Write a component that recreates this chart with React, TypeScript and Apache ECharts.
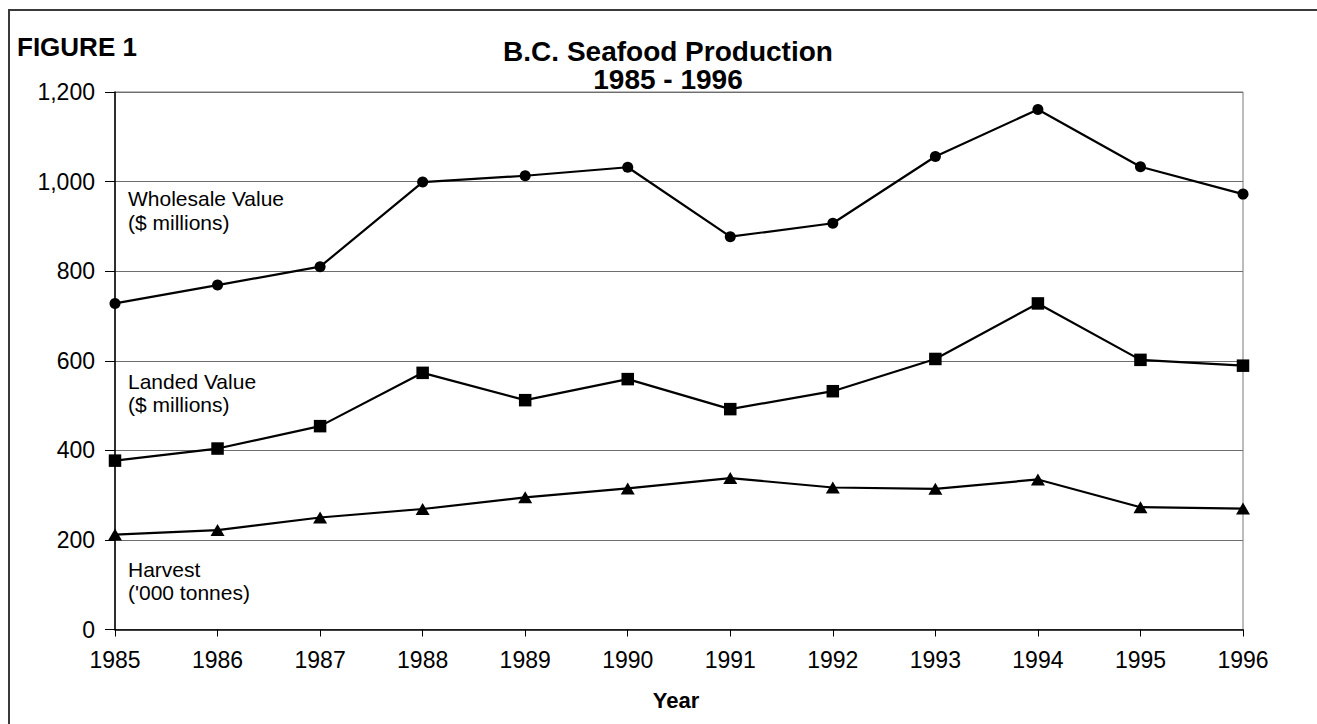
import React, { useEffect, useRef } from "react";
import * as echarts from "echarts";

const years = ["1985", "1986", "1987", "1988", "1989", "1990", "1991", "1992", "1993", "1994", "1995", "1996"];
const wholesaleValue = [728, 769, 810, 999, 1013, 1032, 877, 907, 1056, 1161, 1033, 972];
const landedValue = [377, 404, 454, 573, 512, 559, 492, 532, 604, 728, 602, 589];
const harvest = [212, 222, 250, 269, 295, 315, 338, 317, 314, 335, 273, 270];

const FONT = '"Liberation Sans", Arial, Helvetica, sans-serif';

export default function App() {
  const ref = useRef<HTMLDivElement>(null);
  useEffect(() => {
    document.body.style.margin = "0";
    const chart = echarts.init(ref.current!, null, { renderer: "svg" });
    const lineStyle = { color: "#000", width: 2.2 };
    chart.setOption({
      animation: false,
      backgroundColor: "#fff",
      textStyle: { fontFamily: FONT },
      grid: {
        left: 115,
        right: 74,
        top: 92,
        bottom: 94.5,
        show: true,
        borderColor: "#7a7a7a",
        borderWidth: 1,
      },
      xAxis: {
        type: "category",
        data: years,
        boundaryGap: false,
        axisLine: { lineStyle: { color: "#000", width: 1.5 } },
        axisTick: { show: true, length: 7, lineStyle: { color: "#000" }, alignWithLabel: true },
        axisLabel: { color: "#000", fontSize: 23, fontFamily: FONT, margin: 19 },
        splitLine: { show: false },
      },
      yAxis: {
        type: "value",
        min: 0,
        max: 1200,
        interval: 200,
        axisLine: { show: true, lineStyle: { color: "#000", width: 1.5 } },
        axisTick: { show: true, length: 10, lineStyle: { color: "#000" } },
        axisLabel: {
          color: "#000",
          fontSize: 23,
          fontFamily: FONT,
          margin: 20,
          formatter: (v: number) => v.toLocaleString("en-US"),
        },
        splitLine: { show: true, lineStyle: { color: "#6e6e6e", width: 1.2 } },
      },
      series: [
        {
          name: "Wholesale Value",
          type: "line",
          data: wholesaleValue,
          symbol: "circle",
          symbolSize: 11,
          itemStyle: { color: "#000" },
          lineStyle,
        },
        {
          name: "Landed Value",
          type: "line",
          data: landedValue,
          symbol: "rect",
          symbolSize: 12.5,
          itemStyle: { color: "#000" },
          lineStyle,
        },
        {
          name: "Harvest",
          type: "line",
          data: harvest,
          symbol: "triangle",
          symbolSize: [14, 12],
          itemStyle: { color: "#000" },
          lineStyle,
        },
      ],
      graphic: [
        {
          type: "polyline",
          shape: { points: [[9, 740], [9, 10], [1330, 10]] },
          style: { stroke: "#3a3a3a", lineWidth: 2, fill: null },
          silent: true,
        },
        {
          type: "text",
          x: 17,
          y: 47,
          style: { text: "FIGURE 1", fontFamily: FONT, fontSize: 26, fontWeight: "bold", fill: "#000", textVerticalAlign: "middle" },
        },
        {
          type: "text",
          x: 668,
          y: 51.5,
          style: { text: "B.C. Seafood Production", fontFamily: FONT, fontSize: 28, fontWeight: "bold", fill: "#000", textAlign: "center", textVerticalAlign: "middle" },
        },
        {
          type: "text",
          x: 668,
          y: 79.5,
          style: { text: "1985 - 1996", fontFamily: FONT, fontSize: 28, fontWeight: "bold", fill: "#000", textAlign: "center", textVerticalAlign: "middle" },
        },
        {
          type: "text",
          x: 676,
          y: 700,
          style: { text: "Year", fontFamily: FONT, fontSize: 22, fontWeight: "bold", fill: "#000", textAlign: "center", textVerticalAlign: "middle" },
        },
        {
          type: "text",
          x: 128,
          y: 198,
          style: { text: "Wholesale Value", fontFamily: FONT, fontSize: 21, fill: "#000", textVerticalAlign: "middle" },
        },
        {
          type: "text",
          x: 128,
          y: 222,
          style: { text: "($ millions)", fontFamily: FONT, fontSize: 21, fill: "#000", textVerticalAlign: "middle" },
        },
        {
          type: "text",
          x: 128,
          y: 381,
          style: { text: "Landed Value", fontFamily: FONT, fontSize: 21, fill: "#000", textVerticalAlign: "middle" },
        },
        {
          type: "text",
          x: 128,
          y: 404,
          style: { text: "($ millions)", fontFamily: FONT, fontSize: 21, fill: "#000", textVerticalAlign: "middle" },
        },
        {
          type: "text",
          x: 128,
          y: 569,
          style: { text: "Harvest", fontFamily: FONT, fontSize: 21, fill: "#000", textVerticalAlign: "middle" },
        },
        {
          type: "text",
          x: 128,
          y: 592,
          style: { text: "('000 tonnes)", fontFamily: FONT, fontSize: 21, fill: "#000", textVerticalAlign: "middle" },
        },
      ],
    });
    return () => chart.dispose();
  }, []);
  return <div ref={ref} style={{ width: 1317, height: 724 }} />;
}
